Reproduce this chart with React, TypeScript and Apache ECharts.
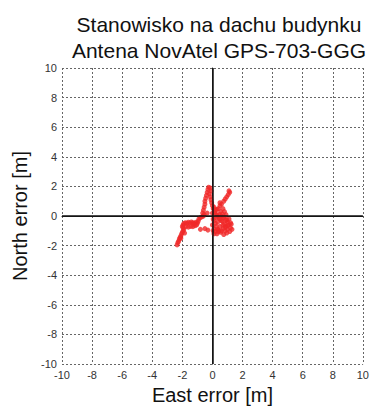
import React, { useEffect, useRef } from "react";
import * as echarts from "echarts";

const titleLines = ["Stanowisko na dachu budynku", "Antena NovAtel GPS-703-GGG"];
const xName = "East error [m]";
const yName = "North error [m]";

// East error [m]
const eastErr = [
  -2.35, -2.3, -2.25, -2.2, -2.15, -2.1, -2.05, -2.0, -1.95, -1.9, -1.95, -2.0, -1.95, -1.9,
  -1.8, -1.7, -1.6, -1.5, -1.4, -1.3, -1.2, -1.1, -1.0,
  -1.75, -1.6, -1.45, -1.3, -1.15,
  -0.9, -0.8, -0.7, -0.6, -0.65, -0.6, -0.55, -0.5, -0.5, -0.45, -0.4, -0.35, -0.3, -0.25, -0.15, -0.1,
  -0.2, -0.15, -0.1, -0.05, 0.0, 0.05,
  0.1, 0.2, 0.15, 0.3, 0.25, 0.1, 0.2, 0.35, 0.5, 0.6, 0.55, 0.4, 0.5, 0.7, 0.8, 0.9, 0.75, 0.65,
  0.8, 1.0, 1.1, 1.2, 1.0, 0.85, 0.7, 0.5, 0.35, 0.2, 0.1, 0.3, 0.55, 0.75, 0.95, 1.15, 1.3,
  0.6, 0.75, 0.85, 0.95, 1.05, 1.15, 1.1,
  0.05, 0.0, 0.05, 0.4, 0.9, 1.25, -0.8, -0.5, -0.3,
  0.15, 0.3, 0.45, 0.6, 0.7, 0.85, 1.0, 0.95, 0.8, 0.65, 0.45, 0.25, 0.4, 0.6, 0.9, 1.1, 1.2, 0.3, 0.5,
  -1.25, -1.05, -0.95, -2.1, -1.85, -0.55, -0.35, 0.0, 0.1,
];
// North error [m]
const northErr = [
  -1.95, -1.8, -1.7, -1.55, -1.45, -1.35, -1.2, -1.1, -1.0, -0.9, -0.8, -0.7, -0.6, -0.5,
  -0.45, -0.5, -0.42, -0.48, -0.4, -0.45, -0.5, -0.42, -0.48,
  -0.7, -0.75, -0.7, -0.72, -0.65,
  -0.2, -0.1, -0.05, 0.0, 0.2, 0.4, 0.6, 0.8, 1.0, 1.2, 1.4, 1.6, 1.8, 1.95, 1.9, 1.7,
  1.5, 1.3, 1.1, 0.9, 0.7, 0.5,
  0.6, 0.4, 0.2, 0.1, -0.1, -0.3, -0.5, -0.4, -0.2, 0.0, 0.3, 0.5, 0.7, 0.5, 0.3, 0.1, -0.1, -0.35,
  -0.55, -0.4, -0.6, -0.8, -0.9, -1.0, -0.85, -0.7, -0.9, -1.05, -0.85, -1.2, -1.1, -1.25, -1.15, -1.05, -0.9,
  0.8, 1.0, 1.15, 1.3, 1.45, 1.6, 1.7,
  -0.2, -0.6, -1.0, -1.05, -0.7, -0.55, -0.9, -0.85, -0.95,
  0.25, 0.0, -0.15, -0.3, -0.6, -0.75, -0.65, -0.25, -0.05, 0.15, 0.1, -0.7, -0.95, -1.0, -0.3, -0.2, -0.45, 0.45, 0.9,
  -0.55, -0.6, -0.35, -1.5, -1.15, 0.1, 0.2, 0.2, -1.2,
];

const points = eastErr.map((e, i) => [e, northErr[i]]);

export default function App() {
  const ref = useRef<HTMLDivElement>(null);
  useEffect(() => {
    if (!ref.current) return;
    const chart = echarts.init(ref.current, undefined, { renderer: "svg" });
    const font = "'Liberation Sans', Arial, sans-serif";
    const axisCommon = {
      type: "value" as const,
      min: -10,
      max: 10,
      interval: 2,
      nameLocation: "middle" as const,
      nameTextStyle: { fontSize: 20, color: "#111", fontFamily: font },
      axisLine: { show: true, lineStyle: { color: "#222", width: 1 } },
      axisTick: { show: false },
      splitLine: { show: true, lineStyle: { type: [2, 2], color: "#666", width: 1 } },
      axisLabel: { fontSize: 11, color: "#333", fontFamily: font, margin: 5 },
    };
    chart.setOption({
      animation: false,
      backgroundColor: "#fff",
      title: {
        text: titleLines.join("\n"),
        left: 214,
        top: 6,
        textAlign: "center",
        textStyle: { fontSize: 21, fontWeight: "normal", color: "#111", fontFamily: font, lineHeight: 26 },
      },
      grid: { left: 62, right: 6, top: 68, bottom: 38 },
      xAxis: { ...axisCommon, name: xName, nameGap: 20 },
      yAxis: { ...axisCommon, name: yName, nameGap: 31 },
      series: [
        {
          type: "scatter",
          data: points,
          symbol: "circle",
          symbolSize: 5,
          itemStyle: { color: "#f02828" },
          markLine: {
            silent: true,
            symbol: "none",
            label: { show: false },
            lineStyle: { color: "#111", type: "solid", width: 1.5 },
            data: [{ xAxis: 0 }, { yAxis: 0 }],
          },
          z: 3,
        },
      ],
    });
    return () => chart.dispose();
  }, []);
  return (
    <div
      ref={ref}
      style={{ position: "fixed", left: 0, top: 0, width: 372, height: 410 }}
    />
  );
}
